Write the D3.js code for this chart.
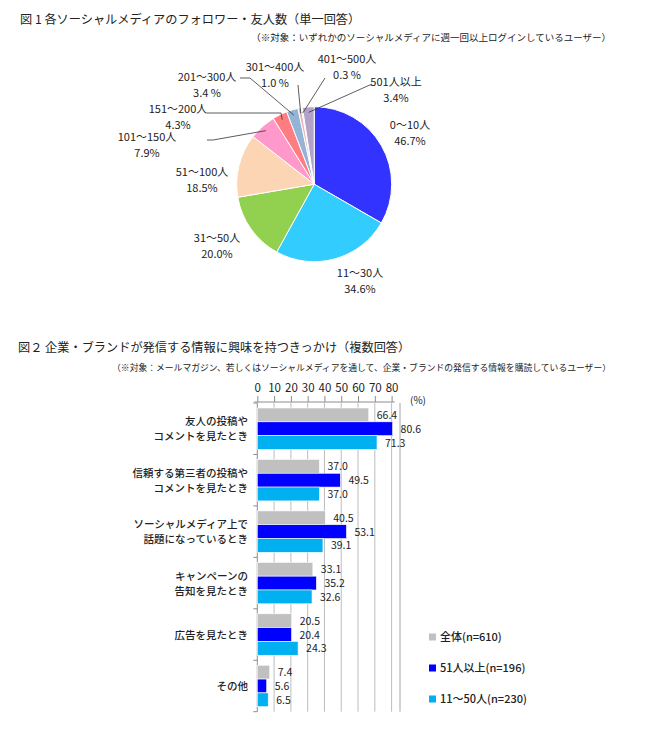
<!DOCTYPE html>
<html><head><meta charset="utf-8">
<script src="https://cdn.jsdelivr.net/npm/d3@7"></script>
<style>
body{margin:0;background:#fff;}
svg{display:block;font-family:"Noto Sans CJK JP","Noto Sans",sans-serif;}
</style></head>
<body><svg id="c" width="650" height="747"></svg>
<script>
// ---- Figure 1 data ----
const pieCategories = ["0～10人","11～30人","31～50人","51～100人","101～150人","151～200人","201～300人","301～400人","401～500人","501人以上"];
const pieValues = [46.7,34.6,20.0,18.5,7.9,4.3,3.4,1.0,0.3,3.4];
const pieValueLabels = ["46.7%","34.6%","20.0%","18.5%","7.9%","4.3%","3.4 %","1.0 %","0.3 %","3.4%"];
const pieColors = ["#3333ff","#33ccff","#92d050","#fcd5b5","#ff99cc","#ff7c80","#95b3d7","#e6b9b8","#c4bd97","#b3a2c7"];

// ---- Figure 2 data ----
const barCategories = [["友人の投稿や","コメントを見たとき"],["信頼する第三者の投稿や","コメントを見たとき"],["ソーシャルメディア上で","話題になっているとき"],["キャンペーンの","告知を見たとき"],["広告を見たとき"],["その他"]];
const seriesNames = ["全体(n=610)","51人以上(n=196)","11～50人(n=230)"];
const seriesAll = [66.4,37.0,40.5,33.1,20.5,7.4];
const series51 = [80.6,49.5,53.1,35.2,20.4,5.6];
const series11 = [71.3,37.0,39.1,32.6,24.3,6.5];
const seriesColors = ["#c0c0c0","#0000ff","#00b0f0"];
const xTicks = [0,10,20,30,40,50,60,70,80];

(function(){
const svg = d3.select("#c");

// Titles
svg.append("text").attr("x",20).attr("y",24).attr("font-size",12.2).attr("fill","#222").text("図 1  各ソーシャルメディアのフォロワー・友人数（単一回答）");
svg.append("text").attr("x",611).attr("y",41).attr("font-size",9.5).attr("text-anchor","end").attr("fill","#222").text("（※対象：いずれかのソーシャルメディアに週一回以上ログインしているユーザー）");

// ---- Pie ----
const cx=314.2, cy=184.2, R=77.5;
const pie = d3.pie().sort(null).value(d=>d)(pieValues);
const arc = d3.arc().innerRadius(0).outerRadius(R);
const gp = svg.append("g").attr("transform",`translate(${cx},${cy})`);
gp.selectAll("path").data(pie).join("path")
  .attr("d",arc).attr("fill",(d,i)=>pieColors[i]).attr("stroke","#fff").attr("stroke-width",1);

const labelPos = [
  {x:410,y:129},{x:360,y:277},{x:217,y:242},{x:202,y:176},{x:147,y:141},
  {x:178,y:113},{x:207,y:81},{x:275,y:71},{x:347,y:63},{x:396,y:86}
];
const leaders = {
  4:[[207,140],[213,140]],
  5:[[207,113],[281,113]],
  6:[[240,78],[250,78]],
  7:[[298,85]],
  8:[[325,78]],
  9:[[372,84]]
};
pie.forEach((d,i)=>{
  const lp = labelPos[i];
  const t = svg.append("text").attr("text-anchor","middle").attr("font-size",11).attr("fill","#222");
  t.append("tspan").attr("x",lp.x).attr("y",lp.y).text(pieCategories[i]);
  t.append("tspan").attr("x",lp.x).attr("y",lp.y+15.5).text(pieValueLabels[i]);
  if(leaders[i]){
    const mid=(d.startAngle+d.endAngle)/2;
    const ex=cx+Math.sin(mid)*R*0.93, ey=cy-Math.cos(mid)*R*0.93;
    const pts = leaders[i].concat([[ex,ey]]);
    svg.append("path").attr("d",d3.line()(pts)).attr("fill","none").attr("stroke","#333").attr("stroke-width",0.8);
  }
});

// ---- Bar chart ----
svg.append("text").attr("x",18).attr("y",352).attr("font-size",12.2).attr("fill","#222").text("図２  企業・ブランドが発信する情報に興味を持つきっかけ（複数回答）");
svg.append("text").attr("x",611).attr("y",371).attr("font-size",8.8).attr("text-anchor","end").attr("fill","#222").text("（※対象：メールマガジン、若しくはソーシャルメディアを通して、企業・ブランドの発信する情報を購読しているユーザー）");

const plotTop=403, plotBottom=711.7;
const x = d3.scaleLinear().domain([0,85]).range([257.3,400]);
const y = d3.scaleBand().domain(d3.range(barCategories.length)).range([plotTop,plotBottom]).padding(0);
const ys = d3.scaleBand().domain(d3.range(3)).range([5,y.bandwidth()-5]).padding(0);

svg.append("g").selectAll("line").data(xTicks.slice(1)).join("line")
  .attr("x1",d=>x(d)).attr("x2",d=>x(d)).attr("y1",plotTop).attr("y2",plotBottom)
  .attr("stroke","#bdbdbd").attr("stroke-width",1);
svg.append("line").attr("x1",400).attr("x2",400).attr("y1",plotTop).attr("y2",plotBottom).attr("stroke","#a6a6a6");

const ax = svg.append("g").attr("transform",`translate(0,${plotTop-1})`)
  .call(d3.axisTop(x).tickValues(xTicks).tickSize(6).tickSizeOuter(0));
ax.select(".domain").attr("stroke","#8c8c8c").attr("d",`M${x(0)-3},0H${x(80)+3}`);
ax.selectAll(".tick line").attr("stroke","#8c8c8c");
ax.selectAll(".tick text").attr("font-size",11.5).attr("fill","#222").attr("y",-10).attr("font-family","Noto Sans CJK JP");
svg.append("text").attr("x",418).attr("y",404).attr("font-size",10).attr("text-anchor","middle").attr("fill","#222").text("(%)");

svg.append("line").attr("x1",x(0)).attr("x2",x(0)).attr("y1",plotTop).attr("y2",plotBottom).attr("stroke","#8c8c8c");
svg.append("g").selectAll("line").data(d3.range(barCategories.length+1)).join("line")
  .attr("x1",x(0)-4).attr("x2",x(0)).attr("y1",d=>plotTop+d*y.bandwidth()).attr("y2",d=>plotTop+d*y.bandwidth())
  .attr("stroke","#8c8c8c");

const allSeries=[seriesAll,series51,series11];
allSeries.forEach((s,si)=>{
  const g=svg.append("g");
  g.selectAll("rect").data(s).join("rect")
    .attr("x",x(0)).attr("y",(d,i)=>y(i)+ys(si)).attr("width",d=>x(d)-x(0)).attr("height",ys.bandwidth())
    .attr("fill",seriesColors[si]).attr("stroke","#fff").attr("stroke-width",0.6);
  g.selectAll("text").data(s).join("text")
    .attr("x",d=>x(d)+8).attr("y",(d,i)=>y(i)+ys(si)+ys.bandwidth()/2+4)
    .attr("font-size",10.5).attr("fill","#222").text(d=>d.toFixed(1));
});

barCategories.forEach((lines,i)=>{
  const cyy=y(i)+y.bandwidth()/2;
  const t=svg.append("text").attr("text-anchor","end").attr("font-size",10.5).attr("font-weight",500).attr("fill","#222");
  lines.forEach((l,j)=>{
    t.append("tspan").attr("x",248).attr("y",cyy+4+(j-(lines.length-1)/2)*15).text(l);
  });
});

const ly=[637,668,699];
seriesNames.forEach((n,i)=>{
  svg.append("rect").attr("x",429).attr("y",ly[i]-3.5).attr("width",7).attr("height",7).attr("fill",seriesColors[i]);
  svg.append("text").attr("x",440).attr("y",ly[i]+4).attr("font-size",11).attr("font-weight",500).attr("fill","#222").text(n);
});
})();
</script></body></html>
